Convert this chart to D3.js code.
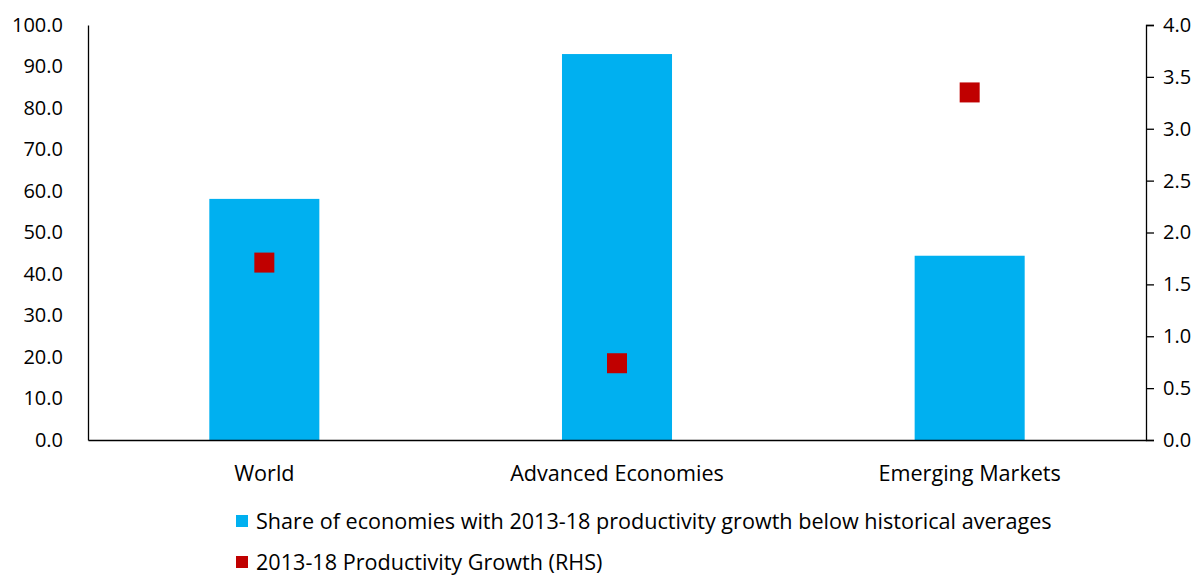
<!DOCTYPE html>
<html><head><meta charset="utf-8">
<script src="https://cdn.jsdelivr.net/npm/d3@7"></script>
<style>body{margin:0;background:#fff}svg{display:block}text{font-family:"Open Sans","Noto Sans",sans-serif;fill:#000}</style>
</head><body>
<svg id="c" width="1204" height="576"></svg>
<script>
const categories = ["World", "Advanced Economies", "Emerging Markets"];
const shareBelow = [58.1, 93.0, 44.4];
const productivityGrowth = [1.71, 0.74, 3.35];
const leftTicks = [0,10,20,30,40,50,60,70,80,90,100];
const rightTicks = [0,0.5,1,1.5,2,2.5,3,3.5,4];
const seriesNames = ["Share of economies with 2013-18 productivity growth below historical averages", "2013-18 Productivity Growth (RHS)"];
const colors = ["#00B0F0", "#C00000"];

const svg = d3.select("#c");
const L = 88, R = 1146, T = 25, B = 440;
const x = d3.scaleBand().domain(categories).range([L, R]).paddingInner(0.688).paddingOuter(0.344);
const yL = d3.scaleLinear().domain([0, 100]).range([B, T]);
const yR = d3.scaleLinear().domain([0, 4]).range([B, T]);

// bars
svg.selectAll("rect.bar").data(categories).join("rect").attr("class","bar")
  .attr("x", d => x(d)).attr("width", x.bandwidth())
  .attr("y", (d,i) => yL(shareBelow[i])).attr("height", (d,i) => B - yL(shareBelow[i]))
  .attr("fill", colors[0]);

// markers
const ms = 20;
svg.selectAll("rect.mk").data(categories).join("rect").attr("class","mk")
  .attr("x", d => x(d) + x.bandwidth()/2 - ms/2)
  .attr("y", (d,i) => yR(productivityGrowth[i]) - ms/2)
  .attr("width", ms).attr("height", ms).attr("fill", colors[1]);

// left axis
const gl = svg.append("g").attr("transform", `translate(${L},0)`)
  .call(d3.axisLeft(yL).tickValues(leftTicks).tickFormat(d3.format(".1f")).tickSize(0).tickPadding(25));
gl.select(".domain").attr("stroke","#000").attr("stroke-width",1.3);
gl.selectAll("text").style("font-size","20px");

// right axis
const gr = svg.append("g").attr("transform", `translate(${R},0)`)
  .call(d3.axisRight(yR).tickValues(rightTicks).tickFormat(d3.format(".1f")).tickSize(8).tickSizeOuter(8).tickPadding(9));
gr.selectAll(".domain").attr("stroke","#000").attr("stroke-width",1.3);
gr.selectAll("line").attr("stroke","#000").attr("stroke-width",1.3);
gr.selectAll("text").style("font-size","20px");

// bottom axis
const gb = svg.append("g").attr("transform", `translate(0,${B})`)
  .call(d3.axisBottom(x).tickSize(0).tickSizeOuter(0).tickPadding(26));
gb.select(".domain").attr("stroke","#000").attr("stroke-width",1.3);
gb.selectAll("text").style("font-size","21.6px");

// legend
const lg = svg.append("g");
seriesNames.forEach((s, i) => {
  const yy = 521 + i * 41;
  lg.append("rect").attr("x", 236).attr("y", yy - 6).attr("width", 12).attr("height", 12).attr("fill", colors[i]);
  lg.append("text").attr("x", 256).attr("y", yy).attr("dy", "0.35em").style("font-size", "21.6px").text(s);
});
</script>
</body></html>
